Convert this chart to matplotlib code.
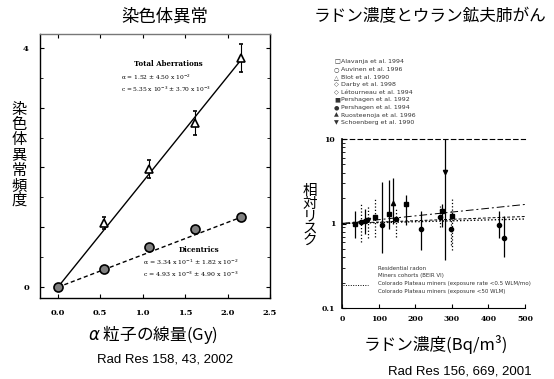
import numpy as np
import matplotlib.pyplot as plt

plt.rcParams['font.family'] = ['Noto Sans CJK JP', 'DejaVu Sans']

# --- left panel: chromosome aberrations vs alpha dose ---
dose = [0.0, 0.54, 1.08, 1.62, 2.16]
total_dose = [0.54, 1.08, 1.62, 2.16]
total_freq = [1.07, 1.98, 2.75, 3.83]
total_err = [0.10, 0.15, 0.20, 0.23]
dic_freq = [0.0, 0.30, 0.67, 0.98, 1.17]
total_fit_x = [0.0, 2.16]
total_fit_y = [0.0, 3.80]
dic_fit_x = [0.0, 2.16]
dic_fit_y = [0.0, 1.17]

# --- right panel: residential radon studies ---
radon = [36, 52, 63, 71, 90, 109, 128, 139, 148, 175, 216, 268, 273, 281, 298, 300, 429, 443]
rr = [1.0, 1.03, 1.06, 1.1, 1.18, 0.97, 1.28, 1.77, 1.12, 1.68, 0.87, 1.18, 1.39, 4.1, 0.85, 1.24, 0.97, 0.68]
rr_lo = [0.68, 0.61, 0.75, 0.68, 0.70, 0.45, 0.85, 1.0, 0.70, 0.97, 0.49, 0.90, 0.90, 0.37, 0.55, 0.49, 0.68, 0.40]
rr_hi = [1.39, 1.77, 1.5, 1.6, 2.03, 3.1, 3.3, 3.5, 1.5, 2.2, 1.39, 1.6, 1.7, 10, 1.4, 2.0, 1.39, 1.24]
bar_style = ['solid', 'dotted', 'solid', 'dotted', 'dotted', 'solid', 'solid', 'solid', 'dotted',
             'solid', 'solid', 'dotted', 'solid', 'solid', 'dotted', 'dotted', 'solid', 'solid']
mark = ['s', 'o', 'o', 'v', 's', 'o', 's', '^', 'o', 's', 'o', 'o', 's', 'v', 'o', 's', 'o', 'o']

fit_x = [0, 500]
fit_a = [1.0, 1.68]
fit_b = [1.0, 1.21]
fit_c = [1.0, 1.13]

studies = ['Alavanja et al. 1994', 'Auvinen et al. 1996', 'Blot et al. 1990', 'Darby et al. 1998',
           'Létourneau et al. 1994', 'Pershagen et al. 1992', 'Pershagen et al. 1994',
           'Ruosteenoja et al. 1996', 'Schoenberg et al. 1990']
study_marks = ['□', '○', '△', '◇', '◇', '■', '●', '▲', '▼']
fit_labels = ['Residential radon', 'Miners cohorts (BEIR VI)',
              'Colorado Plateau miners (exposure rate <0.5 WLM/mo)',
              'Colorado Plateau miners (exposure <50 WLM)']

W, H = 554, 379
fig = plt.figure(figsize=(W / 100, H / 100), dpi=100)

def fx(px):
    return px / W

def fy(py):
    return 1 - py / H

serif = 'DejaVu Serif'

# left panel
ax1 = fig.add_axes([fx(40), fy(298), 230 / W, 264 / H])
ax1.plot(total_fit_x, total_fit_y, color='black', lw=1.0)
ax1.plot(dic_fit_x, dic_fit_y, color='black', lw=1.0, ls=(0, (3, 2)))
ax1.errorbar(total_dose, total_freq, yerr=total_err, fmt='^', ms=6, mfc='white', mec='black',
             mew=1.2, ecolor='black', elinewidth=0.8, capsize=1.5)
ax1.plot(dose, dic_freq, 'o', ms=6.5, mfc='#808080', mec='black', mew=1.2)
ax1.set_xlim(-0.21, 2.5)
ax1.set_ylim(-0.18, 4.23)
ax1.set_xticks([0, 0.5, 1.0, 1.5, 2.0, 2.5])
ax1.set_xticklabels(['0.0', '0.5', '1.0', '1.5', '2.0', '2.5'], family=serif, fontsize=6, weight='bold')
ax1.set_yticks([0, 1, 2, 3, 4])
ax1.set_yticklabels(['0', '', '', '', '4'], family=serif, fontsize=6, weight='bold')
ax1.set_yticks(np.arange(0, 4.2, 0.5), minor=True)
ax1.tick_params(direction='in', length=3, width=0.8, right=True, top=True, pad=8)
ax1.tick_params(which='minor', direction='in', length=2, right=True)
for s in ax1.spines.values():
    s.set_linewidth(1.0)
ax1.spines['top'].set_color('#777777')

ax1.text(1.30, 3.73, 'Total Aberrations', family=serif, fontsize=5, weight='bold', ha='center', va='center')
ax1.text(0.74, 3.52, r'α = 1.52 ± 4.50 x 10$^{-2}$', family=serif, fontsize=4.2, va='center')
ax1.text(0.74, 3.30, r'c = 5.35 x 10$^{-3}$ ± 3.70 x 10$^{-3}$', family=serif, fontsize=4.2, va='center')
ax1.text(1.66, 0.62, 'Dicentrics', family=serif, fontsize=5, weight='bold', ha='center', va='center')
ax1.text(1.0, 0.42, r'α = 3.34 x 10$^{-1}$ ± 1.82 x 10$^{-2}$', family=serif, fontsize=4.5, va='center')
ax1.text(1.0, 0.22, r'c = 4.93 x 10$^{-3}$ ± 4.90 x 10$^{-3}$', family=serif, fontsize=4.5, va='center')

fig.text(fx(165), fy(17), '染色体異常', fontsize=12.5, ha='center', va='center')
fig.text(fx(19), fy(155), '\n'.join('染色体異常頻度'), fontsize=11, ha='center', va='center',
         linespacing=0.85)
fig.text(fx(153), fy(335), r'$\alpha$ 粒子の線量(Gy)', fontsize=12, ha='center', va='center')
fig.text(fx(165), fy(360), 'Rad Res 158, 43, 2002', family='Liberation Sans', fontsize=9.5,
         ha='center', va='center')

# right panel
ax2 = fig.add_axes([fx(342), fy(308), 183 / W, 169 / H])
ax2.plot(fit_x, fit_a, color='black', lw=0.7, ls=(0, (8, 3, 2, 3)))
ax2.plot(fit_x, fit_b, color='black', lw=0.7, ls=(0, (3, 2)))
ax2.plot(fit_x, fit_c, color='black', lw=1.0, ls=(0, (1, 1.5)))
ax2.vlines(radon, rr_lo, rr_hi, colors='black', linestyles=bar_style, lw=0.9)
for x, y, m in zip(radon, rr, mark):
    ax2.plot(x, y, marker=m, ms=3, color='black')
ax2.set_yscale('log')
ax2.set_xlim(0, 500)
ax2.set_ylim(0.1, 10)
ax2.set_xticks([0, 100, 200, 300, 400, 500])
ax2.set_xticklabels(['0', '100', '200', '300', '400', '500'], family=serif, fontsize=5.5, weight='bold')
ax2.set_yticks([0.1, 1, 10])
ax2.set_yticklabels(['0.1', '1', '10'], family=serif, fontsize=5.5, weight='bold')
ax2.tick_params(direction='in', length=3, width=0.8, pad=5)
ax2.tick_params(which='minor', direction='in', length=2, width=0.6)
ax2.spines['right'].set_visible(False)
ax2.spines['top'].set_linestyle((0, (4, 3)))
ax2.spines['top'].set_linewidth(0.8)
ax2.spines['left'].set_linewidth(1.2)
ax2.spines['bottom'].set_linewidth(0.8)

for i, (m, t) in enumerate(zip(study_marks, studies)):
    yy = fy(62 + i * 7.6)
    fig.text(fx(334), yy, m, family='DejaVu Sans', fontsize=4.5, va='center', color='#333333')
    fig.text(fx(341), yy, t, family='DejaVu Sans', fontsize=4.5, va='center', color='#333333')

leg_y = [268, 276, 284, 292]
for i, t in enumerate(fit_labels):
    fig.text(fx(378), fy(leg_y[i]), t, family='DejaVu Sans', fontsize=4, va='center', color='#333333')
ax2.plot([0.005, 0.14], [0.136, 0.136], transform=ax2.transAxes, color='black', lw=0.7,
         ls=(0, (1, 1.5)))

fig.text(fx(430), fy(17), 'ラドン濃度とウラン鉱夫肺がん', fontsize=12, ha='center', va='center')
fig.text(fx(310), fy(216), '\n'.join('相対リスク'), fontsize=10.5, ha='center', va='center',
         linespacing=0.85)
fig.text(fx(436), fy(345), 'ラドン濃度(Bq/m³)', fontsize=12, ha='center', va='center')
fig.text(fx(460), fy(372), 'Rad Res 156, 669, 2001', family='Liberation Sans', fontsize=9.5,
         ha='center', va='center')

fig.savefig('out.png', dpi=100)
